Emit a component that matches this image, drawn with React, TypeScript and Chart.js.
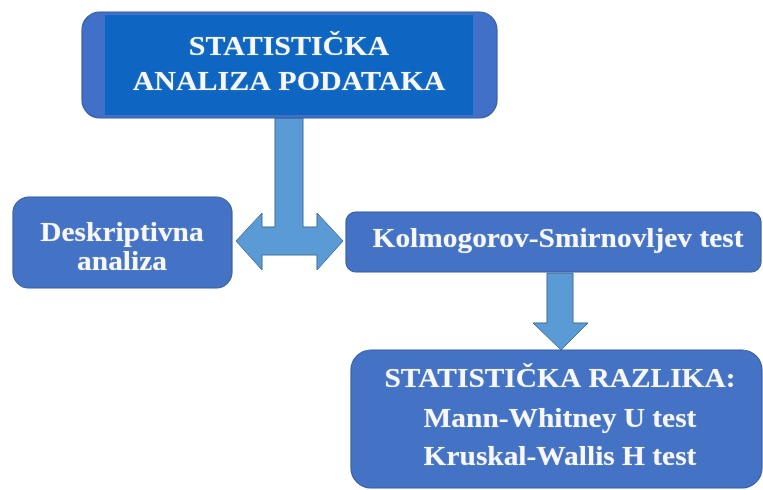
import React, { useEffect, useRef } from "react";
import { Chart, registerables } from "chart.js";

Chart.register(...registerables);

// ---- Text content of the flowchart nodes ----
const rootLines = ["STATISTIČKA", "ANALIZA PODATAKA"];
const leftLines = ["Deskriptivna", "analiza"];
const middleLines = ["Kolmogorov-Smirnovljev test"];
const bottomLines = ["STATISTIČKA RAZLIKA:", "Mann-Whitney U test", "Kruskal-Wallis H test"];

// ---- Layout (data units of a 763 x 490 coordinate frame) ----
const W = 763;
const H = 490;

type Box = { x0: number; x1: number; y0: number; y1: number; r: number };
const rootBox: Box = { x0: 82, x1: 497, y0: 12, y1: 118, r: 18 };
const rootInner = { x0: 105, x1: 473, y0: 15, y1: 115 };
const leftBox: Box = { x0: 13, x1: 232, y0: 197, y1: 288, r: 16 };
const middleBox: Box = { x0: 346, x1: 761, y0: 212, y1: 272, r: 10 };
const bottomBox: Box = { x0: 351, x1: 762, y0: 350, y1: 488, r: 20 };

type TextSpec = { cx: number; baselines: number[]; size: number; sx: number };
const rootText: TextSpec = { cx: 289, baselines: [55, 90], size: 28, sx: 1.07 };
const leftText: TextSpec = { cx: 122, baselines: [241, 270], size: 28, sx: 1.05 };
const middleText: TextSpec = { cx: 558, baselines: [247], size: 28, sx: 1.05 };
const bottomText: TextSpec = { cx: 560, baselines: [387, 427, 465], size: 28, sx: 1.05 };

// T-shaped double arrow and down arrow outlines
const teeArrow: [number, number][] = [
  [236, 241], [262, 213], [262, 227], [275, 227], [275, 118], [303, 118],
  [303, 227], [317, 227], [317, 213], [343, 241], [317, 270], [317, 255],
  [262, 255], [262, 270],
];
const downArrow: [number, number][] = [
  [547, 273], [573, 273], [573, 323], [588, 323], [561, 350], [533, 323], [547, 323],
];

const BOX_FILL = "#4472c4";
const BOX_STROKE = "#3a5f9f";
const ROOT_OUTER = "#4070c8";
const ROOT_INNER = "#0f66c2";
const ARROW_FILL = "#5b9bd5";
const ARROW_STROKE = "#41719c";
const TEXT_COLOR = "#f7f7f7";

const flowPlugin = {
  id: "flowchart",
  afterDraw(chart: any) {
    const ctx: CanvasRenderingContext2D = chart.ctx;
    const xs = chart.scales.x;
    const ys = chart.scales.y;
    const px = (v: number) => xs.getPixelForValue(v);
    const py = (v: number) => ys.getPixelForValue(v);

    const drawBox = (b: Box, fill: string) => {
      ctx.beginPath();
      (ctx as any).roundRect(px(b.x0), py(b.y0), px(b.x1) - px(b.x0), py(b.y1) - py(b.y0), b.r);
      ctx.fillStyle = fill;
      ctx.fill();
      ctx.lineWidth = 1.2;
      ctx.strokeStyle = BOX_STROKE;
      ctx.stroke();
    };
    const drawPoly = (pts: [number, number][]) => {
      ctx.beginPath();
      pts.forEach(([x, y], i) => (i === 0 ? ctx.moveTo(px(x), py(y)) : ctx.lineTo(px(x), py(y))));
      ctx.closePath();
      ctx.fillStyle = ARROW_FILL;
      ctx.fill();
      ctx.lineWidth = 1;
      ctx.strokeStyle = ARROW_STROKE;
      ctx.stroke();
    };
    const drawText = (lines: string[], t: TextSpec) => {
      lines.forEach((s, i) => {
        ctx.save();
        ctx.font = `bold ${t.size}px "Liberation Serif"`;
        ctx.textAlign = "center";
        ctx.textBaseline = "alphabetic";
        ctx.fillStyle = TEXT_COLOR;
        ctx.shadowColor = "rgba(255,255,255,0.3)";
        ctx.shadowBlur = 1.5;
        ctx.translate(px(t.cx), py(t.baselines[i]));
        ctx.scale(t.sx, 1);
        ctx.fillText(s, 0, 0);
        ctx.restore();
      });
    };

    ctx.save();
    drawPoly(teeArrow);
    drawPoly(downArrow);

    drawBox(rootBox, ROOT_OUTER);
    ctx.fillStyle = ROOT_INNER;
    ctx.fillRect(px(rootInner.x0), py(rootInner.y0), px(rootInner.x1) - px(rootInner.x0), py(rootInner.y1) - py(rootInner.y0));

    drawBox(leftBox, BOX_FILL);
    drawBox(middleBox, BOX_FILL);
    drawBox(bottomBox, BOX_FILL);

    drawText(rootLines, rootText);
    drawText(leftLines, leftText);
    drawText(middleLines, middleText);
    drawText(bottomLines, bottomText);
    ctx.restore();
  },
};

export default function App() {
  const ref = useRef<HTMLCanvasElement | null>(null);

  useEffect(() => {
    document.body.style.margin = "0";
    document.body.style.background = "#ffffff";
    const chart = new Chart(ref.current!, {
      type: "scatter",
      data: { datasets: [{ data: [], pointRadius: 0 }] },
      options: {
        responsive: false,
        animation: false,
        events: [],
        layout: { padding: 0 },
        scales: {
          x: { type: "linear", min: 0, max: W, display: false },
          y: { type: "linear", min: 0, max: H, reverse: true, display: false },
        },
        plugins: { legend: { display: false }, tooltip: { enabled: false }, title: { display: false } },
      },
      plugins: [flowPlugin],
    });
    return () => chart.destroy();
  }, []);

  return (
    <div style={{ width: W, height: H, overflow: "hidden", background: "#fff" }}>
      <canvas ref={ref} width={W} height={H} style={{ display: "block" }} />
    </div>
  );
}
